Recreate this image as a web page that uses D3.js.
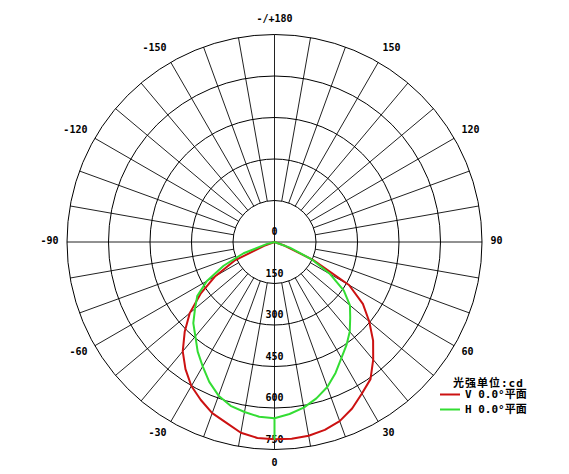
<!DOCTYPE html>
<html>
<head>
<meta charset="utf-8">
<script src="https://cdn.jsdelivr.net/npm/d3@7/dist/d3.min.js"></script>
<style>
  body { margin: 0; background: #fff; }
</style>
</head>
<body>
<svg id="chart"></svg>
<script>
// intensity rings (cd) and their labels
const ringValues = [150, 300, 450, 600, 750];
const ringLabels = [0, 150, 300, 450, 600, 750];

// angle labels round the outside (0 = straight down)
const angleTicks = [0, 30, 60, 90, 120, 150, 180, -150, -120, -90, -60, -30];
const angleTickLabels = ["0", "30", "60", "90", "120", "150", "-/+180", "-150", "-120", "-90", "-60", "-30"];

// V 0.0° plane
const vAngles = [-90, -85, -80, -75, -70, -65, -60, -55, -50, -45, -40, -35, -30, -25, -20, -15, -10, -5,
  0, 5, 10, 15, 20, 25, 30, 35, 40, 45, 50, 55, 60, 65, 70, 75, 80, 85, 90];
const vValues = [0, 0, 0, 0, 40, 160, 247, 326, 400, 459, 516, 561, 601, 630, 658, 676, 700, 711,
  713, 714, 711, 703, 689, 664, 632, 605, 555, 504, 447, 390, 311, 153, 40, 0, 0, 0, 0];

// H 0.0° plane (has the odd spike at 0)
const hAngles = [-90, -85, -80, -75, -70, -65, -60, -55, -50, -45, -40, -35, -30, -25, -20, -15, -10, -5,
  0, 0, 0, 5, 10, 15, 20, 25, 30, 35, 40, 45, 50, 55, 60, 65, 70, 75, 80, 85, 90];
const hValues = [0, 0, 0, 30, 119, 203, 282, 341, 375, 415, 445, 484, 519, 558, 591, 613, 624, 634,
  637, 712, 637, 624, 608, 585, 558, 522, 484, 454, 423, 387, 356, 306, 232, 148, 59, 0, 0, 0, 0];

const legendTitle = "光强单位:cd";
const seriesNames = ["V 0.0°平面", "H 0.0°平面"];
const seriesColors = ["#cc1111", "#33dd33"];

const W = 569, H = 474;
const cx = 274.5, cy = 242;
const R = 207.5;

const svg = d3.select("#chart").attr("width", W).attr("height", H);
const g = svg.append("g").attr("transform", `translate(${cx},${cy})`);

const r = d3.scaleLinear().domain([0, 750]).range([0, R]);
const rad = d3.scaleLinear().domain([0, 180]).range([0, Math.PI]);

// spokes every 10 deg, from first ring outwards; main axes go right through
const spokes = d3.range(0, 360, 10);
g.selectAll("line.spoke")
  .data(spokes)
  .enter()
  .append("line")
  .attr("class", "spoke")
  .attr("x1", d => (d % 90 === 0 ? 0 : r(150) * Math.sin(rad(d))))
  .attr("y1", d => (d % 90 === 0 ? 0 : r(150) * Math.cos(rad(d))))
  .attr("x2", d => R * Math.sin(rad(d)))
  .attr("y2", d => R * Math.cos(rad(d)))
  .attr("stroke", "#222")
  .attr("stroke-width", 1);

// rings
g.selectAll("circle.ring")
  .data(ringValues)
  .enter()
  .append("circle")
  .attr("class", "ring")
  .attr("r", d => r(d))
  .attr("fill", "none")
  .attr("stroke", "#000")
  .attr("stroke-width", 1);

const labelFont = "'DejaVu Sans Mono', 'Liberation Mono', monospace";

// ring value labels down the middle
g.selectAll("text.rlab")
  .data(ringLabels)
  .enter()
  .append("text")
  .attr("class", "rlab")
  .attr("x", 0)
  .attr("y", d => r(d) - 10.5)
  .attr("text-anchor", "middle")
  .attr("dominant-baseline", "central")
  .attr("font-family", labelFont)
  .attr("font-weight", "bold")
  .attr("font-size", "10px")
  .text(d => d);

// angle labels
g.selectAll("text.alab")
  .data(angleTicks)
  .enter()
  .append("text")
  .attr("class", "alab")
  .attr("x", d => 216 * Math.sin(rad(d)))
  .attr("y", d => 222 * Math.cos(rad(d)) - 2)
  .attr("text-anchor", d => {
    const s = Math.sin(rad(d));
    return Math.abs(s) < 0.01 ? "middle" : (s > 0 ? "start" : "end");
  })
  .attr("dominant-baseline", "central")
  .attr("font-family", labelFont)
  .attr("font-weight", "bold")
  .attr("font-size", "10px")
  .text((d, i) => angleTickLabels[i]);

// curves: lineRadial angle is from 12 o'clock clockwise, ours is from 6 o'clock
const line = d3.lineRadial()
  .angle(d => Math.PI - rad(d[0]))
  .radius(d => r(d[1]));

const vData = vAngles.map((a, i) => [a, vValues[i]]);
const hData = hAngles.map((a, i) => [a, hValues[i]]);

g.append("path")
  .attr("d", line(vData))
  .attr("fill", "none")
  .attr("stroke", seriesColors[0])
  .attr("stroke-width", 2)
  .attr("stroke-linejoin", "round");

g.append("path")
  .attr("d", line(hData))
  .attr("fill", "none")
  .attr("stroke", seriesColors[1])
  .attr("stroke-width", 2)
  .attr("stroke-linejoin", "round");

// legend
const legendFont = "'DejaVu Sans Mono', 'Noto Sans CJK SC', monospace";
const lg = svg.append("g");
lg.append("text")
  .attr("x", 453)
  .attr("y", 383)
  .attr("dominant-baseline", "central")
  .attr("font-family", legendFont)
  .attr("font-weight", "bold")
  .attr("font-size", "11px")
  .attr("letter-spacing", "1px")
  .text(legendTitle);

seriesNames.forEach((name, i) => {
  const y = 394.5 + i * 15;
  lg.append("line")
    .attr("x1", 440).attr("x2", 460)
    .attr("y1", y).attr("y2", y)
    .attr("stroke", seriesColors[i])
    .attr("stroke-width", 2);
  lg.append("text")
    .attr("x", 465)
    .attr("y", y)
    .attr("dominant-baseline", "central")
    .attr("font-family", legendFont)
    .attr("font-weight", "bold")
    .attr("font-size", "11px")
    .text(name);
});
</script>
</body>
</html>
